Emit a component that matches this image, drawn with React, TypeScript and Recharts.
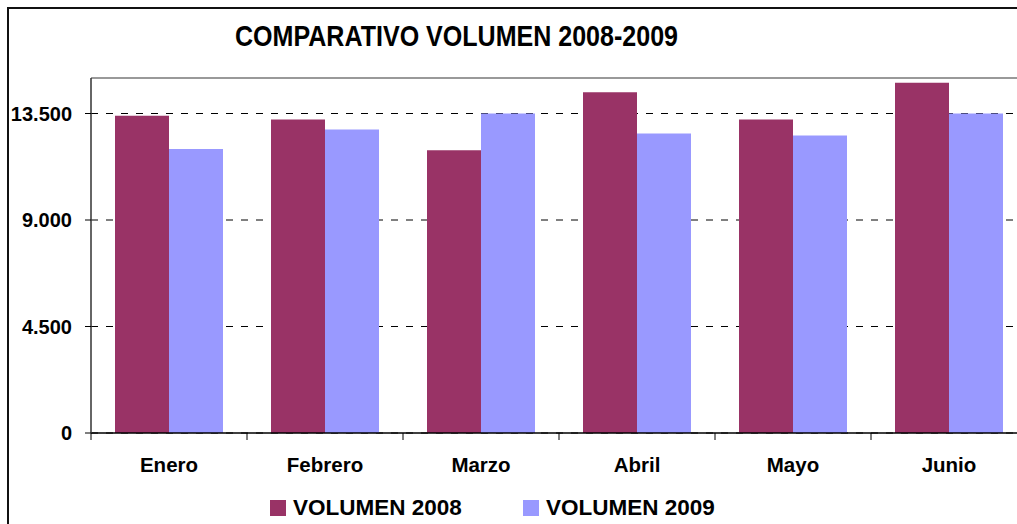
import React from "react";
import {
  BarChart,
  Bar,
  XAxis,
  YAxis,
  CartesianGrid,
  ReferenceLine,
} from "recharts";

const months = ["Enero", "Febrero", "Marzo", "Abril", "Mayo", "Junio"];
const volumen2008 = [13400, 13250, 11950, 14400, 13250, 14800];
const volumen2009 = [12000, 12820, 13500, 12650, 12570, 13500];
const yTicks = [0, 4500, 9000, 13500];
const title = "COMPARATIVO VOLUMEN 2008-2009";

const series = [
  { key: "v2008", name: "VOLUMEN 2008", color: "#993366" },
  { key: "v2009", name: "VOLUMEN 2009", color: "#9999FF" },
];

const data = months.map((m, i) => ({
  month: m,
  v2008: volumen2008[i],
  v2009: volumen2009[i],
}));

const FONT = "'Liberation Sans', Arial, Helvetica, sans-serif";

const fmt = (v: number) => String(v).replace(/\B(?=(\d{3})+(?!\d))/g, ".");

function MonthTick(props: any) {
  const { x, y, payload, index, width, visibleTicksCount } = props;
  const band = width && visibleTicksCount ? width / visibleTicksCount : 156;
  const last = index === visibleTicksCount - 1;
  return (
    <g>
      <line x1={x - band / 2} x2={x - band / 2} y1={y} y2={y + 7} stroke="#000" />
      {last && <line x1={x + band / 2} x2={x + band / 2} y1={y} y2={y + 7} stroke="#000" />}
      <text
        x={x}
        y={y + 39}
        textAnchor="middle"
        fontSize={20.5}
        fontWeight="bold"
        fontFamily={FONT}
        fill="#000"
      >
        {payload.value}
      </text>
    </g>
  );
}

export default function App() {
  return (
    <div
      style={{
        position: "absolute",
        left: 0,
        top: 0,
        width: 1017,
        height: 524,
        overflow: "hidden",
        background: "#fff",
        fontFamily: FONT,
      }}
    >
      <div
        style={{
          position: "absolute",
          left: 7,
          top: 7,
          width: 1200,
          height: 700,
          border: "2px solid #111",
          boxSizing: "border-box",
        }}
      />
      <div style={{ position: "absolute", left: 0, top: 0 }}>
        <BarChart
          width={1040}
          height={524}
          data={data}
          margin={{ top: 78, right: 13, bottom: 0, left: 0 }}
          barGap={0}
          barCategoryGap="15%"
        >
          <CartesianGrid vertical={false} stroke="#000" strokeDasharray="7 8" />
          <ReferenceLine y={15000} stroke="#999" strokeWidth={2} />
          <XAxis
            dataKey="month"
            height={91}
            tickLine={false}
            tickSize={0}
            tickMargin={0}
            axisLine={{ stroke: "#000", strokeWidth: 1.5 }}
            tick={<MonthTick />}
            interval={0}
          />
          <YAxis
            width={91}
            domain={[0, 15000]}
            ticks={yTicks}
            interval={0}
            tickFormatter={fmt}
            tickSize={6}
            tickMargin={13}
            axisLine={{ stroke: "#333", strokeWidth: 1.5 }}
            tickLine={{ stroke: "#000" }}
            tick={{ fontSize: 20, fontWeight: "bold", fill: "#000", fontFamily: FONT }}
          />
          {series.map((s) => (
            <Bar
              key={s.key}
              dataKey={s.key}
              name={s.name}
              fill={s.color}
              barSize={54}
              isAnimationActive={false}
            />
          ))}
        </BarChart>
      </div>
      <svg
        width={1017}
        height={524}
        style={{ position: "absolute", left: 0, top: 0, pointerEvents: "none" }}
      >
        <text
          x={235}
          y={46}
          fontSize={30}
          fontWeight="bold"
          fontFamily={FONT}
          textLength={443}
          lengthAdjust="spacingAndGlyphs"
          fill="#000"
        >
          {title}
        </text>
        {series.map((s, i) => {
          const left = 270 + i * 253;
          return (
            <g key={s.key}>
              <rect x={left} y={500} width={16} height={16} fill={s.color} />
              <text
                x={left + 23}
                y={515}
                fontSize={22.5}
                fontWeight="bold"
                fontFamily={FONT}
                fill="#000"
              >
                {s.name}
              </text>
            </g>
          );
        })}
      </svg>
    </div>
  );
}
